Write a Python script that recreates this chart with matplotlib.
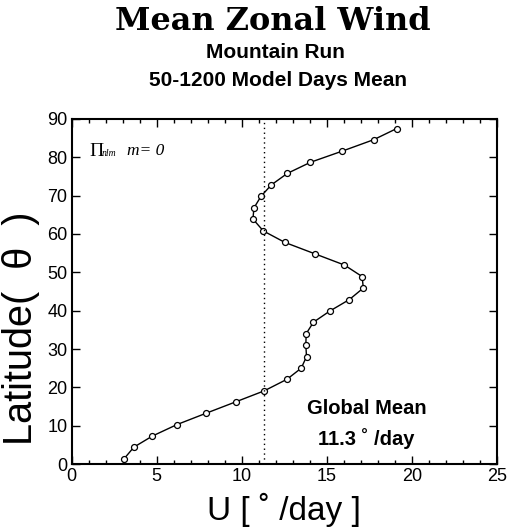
import matplotlib
matplotlib.use("Agg")
import matplotlib.pyplot as plt
from matplotlib.ticker import MultipleLocator

latitude = [1.3, 4.4, 7.3, 10.3, 13.2, 16.2, 19.1, 22.1, 25.0, 28.0, 31.0, 34.0,
            37.0, 39.9, 42.9, 45.9, 48.9, 51.9, 54.8, 57.8, 60.8, 63.9, 66.8,
            69.8, 72.8, 75.8, 78.7, 81.6, 84.6, 87.5]
u_wind = [3.07, 3.66, 4.75, 6.20, 7.88, 9.64, 11.33, 12.66, 13.50, 13.81, 13.77,
          13.79, 14.22, 15.18, 16.33, 17.15, 17.08, 16.04, 14.32, 12.54, 11.27,
          10.66, 10.72, 11.13, 11.74, 12.68, 14.04, 15.90, 17.76, 19.11]
global_mean = 11.3

W, H = 508, 530
fig = plt.figure(figsize=(W / 100, H / 100), dpi=100)
ax = fig.add_axes([0.141, 0.1245, 0.837, 0.651])

def fx(px):
    return px / W

def fy(py):
    return 1 - py / H

ax.plot(u_wind, latitude, color="black", lw=1.0, marker="o", ms=4.3,
        mfc="white", mec="black", mew=0.9)
ax.axvline(global_mean, color="black", ls=(0, (1, 2.5)), lw=1.0)

ax.set_xlim(0, 25)
ax.set_ylim(0, 90)
ax.xaxis.set_major_locator(MultipleLocator(5))
ax.xaxis.set_minor_locator(MultipleLocator(1))
ax.yaxis.set_major_locator(MultipleLocator(10))
ax.tick_params(which="both", direction="in", top=True, right=True,
               labelsize=13, width=1.0, pad=3)
ax.tick_params(which="major", length=6)
ax.tick_params(which="minor", length=3)
for lab in ax.get_xticklabels() + ax.get_yticklabels():
    lab.set_fontfamily("Liberation Sans")
for s in ax.spines.values():
    s.set_linewidth(1.5)

fig.text(fx(284), fy(520), "U [ ˚ /day ]", fontsize=24, family="Liberation Sans",
         ha="center", va="baseline")
fig.text(fx(21), fy(328), "Latitude(  θ  )", fontsize=28.5, family="Liberation Sans",
         ha="center", va="center", rotation=90)

fig.text(fx(89), fy(151), "Π", fontsize=14, family="Liberation Serif",
         ha="left", va="center")
fig.text(fx(102), fy(153), "nlm", fontsize=7, family="Liberation Serif",
         style="italic", ha="left", va="center")
fig.text(fx(127), fy(151), "m= 0", fontsize=12.5, family="Liberation Serif",
         style="italic", ha="left", va="center")

fig.text(fx(367), fy(408), "Global Mean", fontsize=14.5, fontweight="bold",
         family="Liberation Sans", ha="center", va="center")
fig.text(fx(366), fy(439), "11.3 ˚ /day", fontsize=14.5, fontweight="bold",
         family="Liberation Sans", ha="center", va="center")

fig.text(fx(273), fy(22), "Mean Zonal Wind", fontsize=23, fontweight="bold",
         family="DejaVu Serif", ha="center", va="center")
fig.text(fx(275), fy(52), "Mountain Run", fontsize=15, fontweight="bold",
         family="Liberation Sans", ha="center", va="center")
fig.text(fx(278), fy(80), "50-1200 Model Days Mean", fontsize=15, fontweight="bold",
         family="Liberation Sans", ha="center", va="center")

fig.savefig("out.png", dpi=100)
